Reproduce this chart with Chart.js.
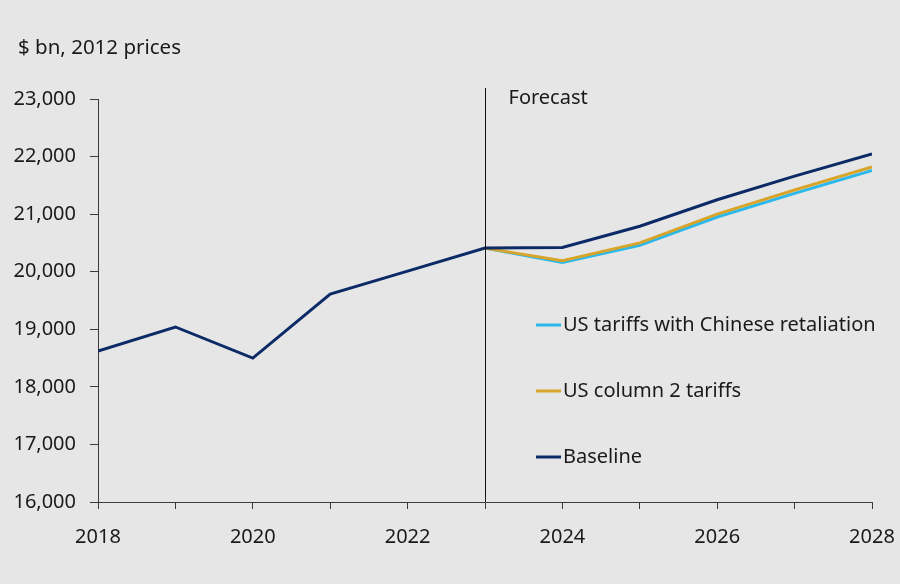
<!DOCTYPE html>
<html lang="en">
<head>
  <meta charset="UTF-8" />
  <title>US GDP scenarios</title>
  <script src="https://cdn.jsdelivr.net/npm/chart.js"></script>
  <style>
    html, body {
      margin: 0;
      padding: 0;
      background-color: #e6e6e6;
    }
    .chart-box {
      position: relative;
      width: 900px;
      height: 584px;
    }
  </style>
</head>
<body>

  <div class="chart-box">
    <canvas id="gdpChart" width="900" height="584"></canvas>
  </div>

  <script>
    // GDP, $ bn at 2012 prices
    const years = [2018, 2019, 2020, 2021, 2022, 2023, 2024, 2025, 2026, 2027, 2028];
    const baseline = [18620, 19040, 18500, 19610, 20010, 20410, 20420, 20790, 21250, 21660, 22045];
    const column2Tariffs = [null, null, null, null, null, 20410, 20190, 20500, 21000, 21420, 21820];
    const retaliation = [null, null, null, null, null, 20410, 20160, 20460, 20950, 21360, 21760];
    const yTicks = [16000, 17000, 18000, 19000, 20000, 21000, 22000, 23000];
    const forecastYear = 2023;

    const FONT = '"Noto Sans", "Open Sans", sans-serif';
    const TEXT = '#1a1a1a';
    const AXIS = '#3a3a3a';

    const NAVY = '#0c2a66';
    const GOLD = '#d8a42a';
    const CYAN = '#2bb8ea';

    function points(values) {
      return years.map((y, i) => ({ x: y, y: values[i] }));
    }

    // title, forecast divider and legend are drawn straight onto the canvas
    const extras = {
      id: 'extras',
      beforeDraw(chart) {
        const { ctx, width, height } = chart;
        ctx.save();
        ctx.fillStyle = '#e6e6e6';
        ctx.fillRect(0, 0, width, height);
        ctx.restore();
      },
      afterDatasetsDraw(chart) {
        const { ctx, scales, chartArea } = chart;
        ctx.save();

        // unit label
        ctx.fillStyle = TEXT;
        ctx.font = '20.5px ' + FONT;
        ctx.textBaseline = 'middle';
        ctx.textAlign = 'left';
        ctx.fillText('$ bn, 2012 prices', 18, 48);

        // forecast divider
        const fx = Math.round(scales.x.getPixelForValue(forecastYear)) + 0.5;
        ctx.strokeStyle = '#111';
        ctx.lineWidth = 1;
        ctx.beginPath();
        ctx.moveTo(fx, chartArea.top - 11);
        ctx.lineTo(fx, chartArea.bottom);
        ctx.stroke();
        ctx.font = '20px ' + FONT;
        ctx.fillText('Forecast', fx + 23, chartArea.top - 1);

        // legend
        const order = [2, 1, 0];
        order.forEach((di, k) => {
          const ds = chart.data.datasets[di];
          const y = 325 + k * 66;
          ctx.strokeStyle = ds.borderColor;
          ctx.lineWidth = 3;
          ctx.beginPath();
          ctx.moveTo(536, y);
          ctx.lineTo(561, y);
          ctx.stroke();
          ctx.fillStyle = TEXT;
          ctx.fillText(ds.label, 563, y);
        });

        ctx.restore();
      }
    };

    const ctx = document.getElementById('gdpChart').getContext('2d');
    new Chart(ctx, {
      type: 'line',
      data: {
        datasets: [
          { label: 'Baseline', data: points(baseline), borderColor: NAVY },
          { label: 'US column 2 tariffs', data: points(column2Tariffs), borderColor: GOLD },
          { label: 'US tariffs with Chinese retaliation', data: points(retaliation), borderColor: CYAN }
        ].map(ds => Object.assign(ds, {
          borderWidth: 3,
          pointRadius: 0,
          tension: 0,
          fill: false,
          spanGaps: false
        }))
      },
      options: {
        responsive: false,
        animation: false,
        devicePixelRatio: 1,
        layout: { padding: { top: 99, right: 28, bottom: 0, left: 0 } },
        plugins: {
          legend: { display: false },
          tooltip: { enabled: false }
        },
        scales: {
          x: {
            type: 'linear',
            min: years[0],
            max: years[years.length - 1],
            afterFit(scale) {
              scale.height = 82;
              // keep end labels from shrinking the plot
              scale.paddingLeft = 0;
              scale.paddingRight = 0;
            },
            afterBuildTicks(scale) {
              scale.ticks = years.map(v => ({ value: v }));
            },
            ticks: {
              autoSkip: false,
              maxRotation: 0,
              padding: 16,
              color: TEXT,
              font: { family: FONT, size: 20 },
              callback: v => (v % 2 === 0 ? String(v) : '')
            },
            grid: {
              drawOnChartArea: false,
              drawTicks: true,
              tickLength: 7,
              color: AXIS
            },
            border: { display: true, color: AXIS, width: 1 }
          },
          y: {
            min: yTicks[0],
            max: yTicks[yTicks.length - 1],
            afterFit(scale) { scale.width = 98; },
            afterBuildTicks(scale) {
              scale.ticks = yTicks.map(v => ({ value: v }));
            },
            ticks: {
              padding: 14,
              color: TEXT,
              font: { family: FONT, size: 20 },
              callback: v => v.toLocaleString('en-US')
            },
            grid: {
              drawOnChartArea: false,
              drawTicks: true,
              tickLength: 8,
              color: AXIS
            },
            border: { display: true, color: AXIS, width: 1 }
          }
        }
      },
      plugins: [extras]
    });
  </script>

</body>
</html>
